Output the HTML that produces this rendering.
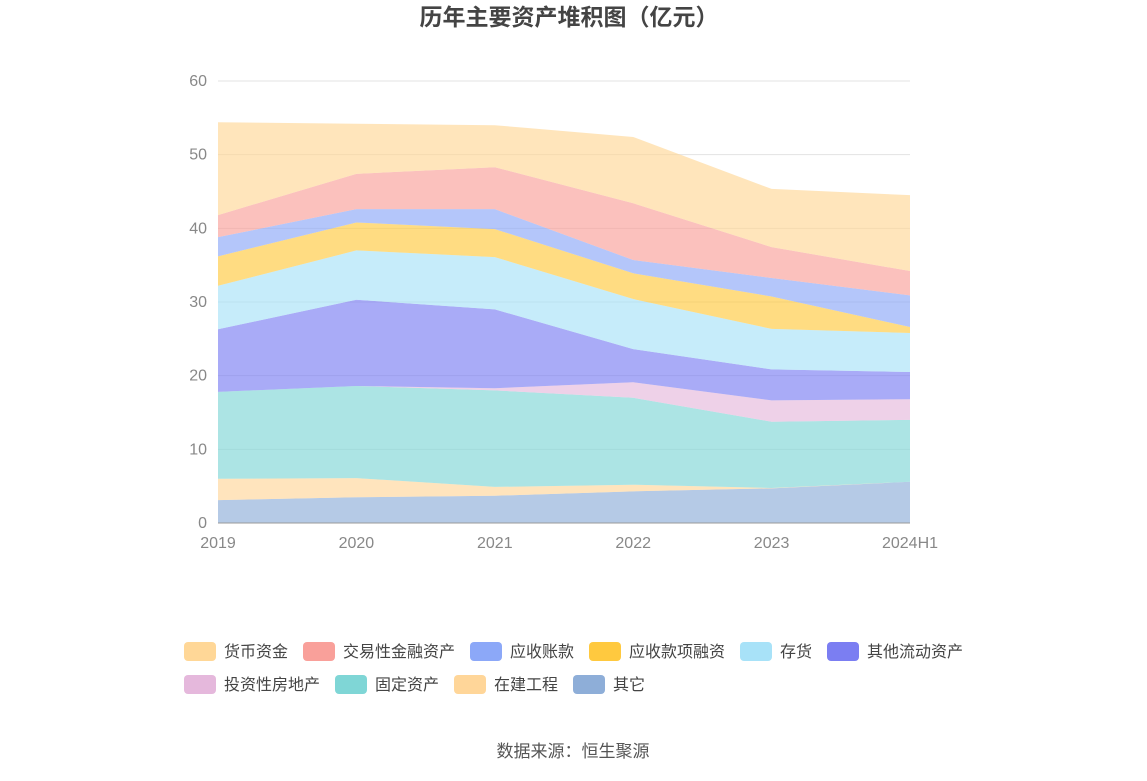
<!DOCTYPE html>
<html><head><meta charset="utf-8">
<style>
body{margin:0;background:#fff;width:1147px;height:776px;overflow:hidden;font-family:"Liberation Sans","Noto Sans CJK SC",sans-serif;}
</style></head>
<body>
<svg id="chart" width="1147" height="776" xmlns="http://www.w3.org/2000/svg" font-family="Liberation Sans, Noto Sans CJK SC, sans-serif">
<text x="569" y="25" text-anchor="middle" font-size="23" font-weight="bold" fill="#444">历年主要资产堆积图（亿元）</text>
<g id="grid"></g><g id="areas"></g><g id="axes"></g><g id="legend"></g>
<text x="573" y="757" text-anchor="middle" font-size="17" fill="#555">数据来源：恒生聚源</text>
</svg>
<script>
const categories=["2019","2020","2021","2022","2023","2024H1"];
const seriesNames=["其它","在建工程","固定资产","投资性房地产","其他流动资产","存货","应收款项融资","应收账款","交易性金融资产","货币资金"];
const s_qita=[3.1,3.5,3.7,4.3,4.7,5.6];
const s_zaijian=[2.9,2.6,1.2,0.9,0.05,0];
const s_guding=[11.8,12.5,13.1,11.8,9.0,8.4];
const s_touzi=[0,0,0.3,2.1,2.9,2.8];
const s_qitaliudong=[8.5,11.7,10.7,4.5,4.2,3.7];
const s_cunhuo=[5.9,6.7,7.1,6.8,5.5,5.3];
const s_rongzi=[4.0,3.8,3.8,3.5,4.4,0.8];
const s_zhangkuan=[2.6,1.8,2.7,1.8,2.5,4.3];
const s_jiaoyi=[3.0,4.8,5.7,7.7,4.2,3.3];
const s_huobi=[12.6,6.8,5.7,9.0,7.9,10.3];
const yTicks=[0,10,20,30,40,50,60];
const seriesValues=[s_qita,s_zaijian,s_guding,s_touzi,s_qitaliudong,s_cunhuo,s_rongzi,s_zhangkuan,s_jiaoyi,s_huobi];
const colors=["#8eaed8","#ffd699","#7fd6d6","#e5b8dc","#7b7ef2","#a8e2f8","#ffc93f","#8ca8f8","#f9a09a","#ffd797"];
const NS="http://www.w3.org/2000/svg";
const X0=218,X1=910,Y0=523,Y1=81;
const x=i=>X0+(X1-X0)*i/(categories.length-1);
const y=v=>Y0-(Y0-Y1)*v/60;
function mk(t,a,p){const e=document.createElementNS(NS,t);for(const k in a)e.setAttribute(k,a[k]);p.appendChild(e);return e;}
const grid=document.getElementById('grid'),axes=document.getElementById('axes'),areas=document.getElementById('areas'),legend=document.getElementById('legend');
yTicks.forEach(t=>{
 const l=mk('line',{x1:X0,x2:X1,y1:y(t),y2:y(t),stroke:'#e3e3e3'},grid);
 
 
 const tx=mk('text',{x:207,y:y(t)+5,'text-anchor':'end','font-size':16,fill:'#888'},axes);tx.textContent=t;
 
 
});
categories.forEach((c,i)=>{
 const tx=mk('text',{x:x(i),y:548,'text-anchor':'middle','font-size':16,fill:'#888'},axes);tx.textContent=c;
 
 
});
const ax=mk('line',{x1:X0,x2:X1,y1:Y0,y2:Y0,stroke:'#999'},axes);


let base=categories.map(()=>0);
seriesValues.forEach((vals,s)=>{
 const top=base.map((b,i)=>b+vals[i]);
 let d='M'+top.map((v,i)=>x(i)+','+y(v)).join('L');
 for(let i=categories.length-1;i>=0;i--)d+='L'+x(i)+','+y(base[i]);
 d+='Z';
 const p=mk('path',{d:d,fill:colors[s],'fill-opacity':0.65,stroke:'none'},areas);
 
 
 base=top;
});
const order=[9,8,7,6,5,4,3,2,1,0];
let lx=184,ly=651;
order.forEach((s,k)=>{
 if(k===6){lx=184;ly=684;}
 const g=mk('g',{},legend);
 
 
 mk('rect',{x:lx,y:ly-9,width:32,height:19,rx:4,fill:colors[s]},g);
 const t=mk('text',{x:lx+40,y:ly+6,'font-size':16,fill:'#444'},g);t.textContent=seriesNames[s];
 lx+=40+seriesNames[s].length*16+15;
});
</script>
</body></html>
